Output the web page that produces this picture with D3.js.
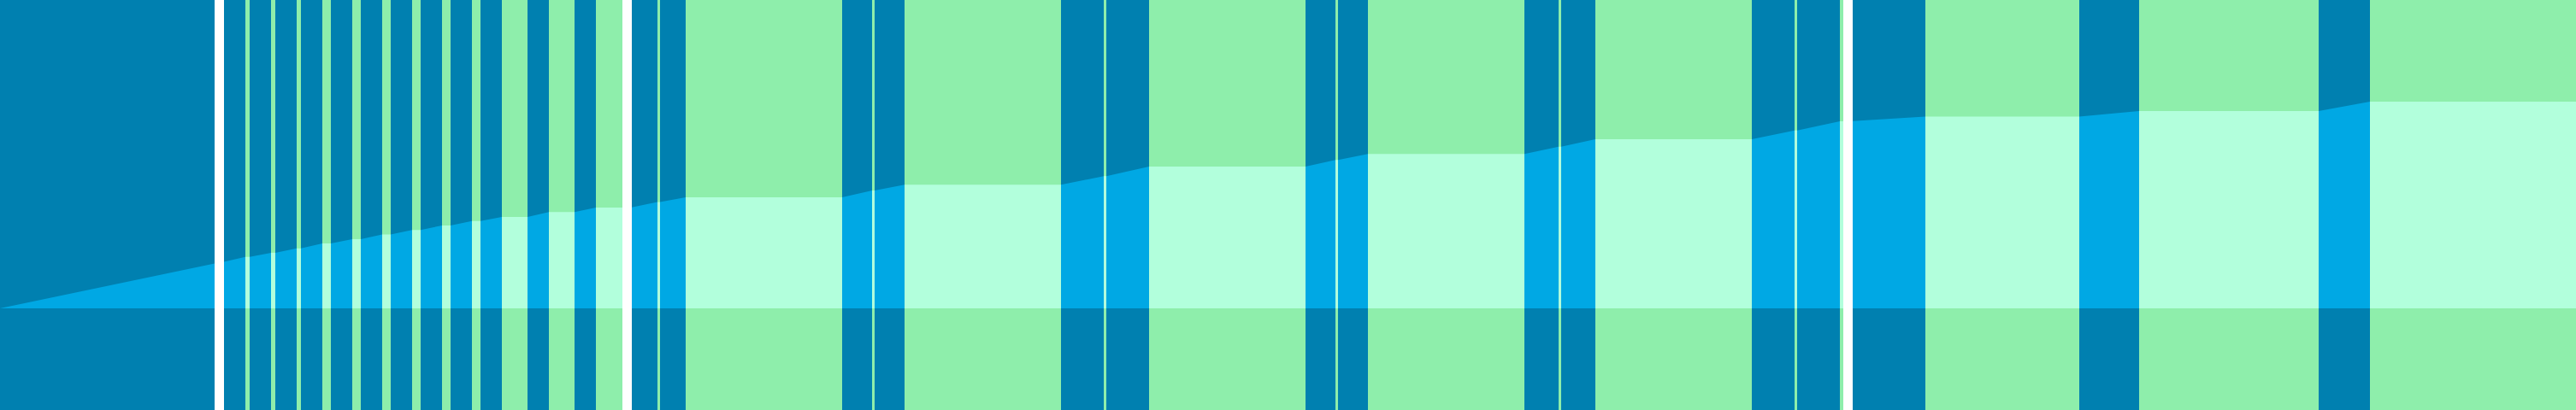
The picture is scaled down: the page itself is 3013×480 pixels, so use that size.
<!DOCTYPE html>
<html>
<head>
<meta charset="utf-8">
<script src="https://cdn.jsdelivr.net/npm/d3@7"></script>
<style>
  body { margin: 0; background: #fff; overflow: hidden; }
</style>
</head>
<body>
<div id="chart"></div>
<script>
// band edges along the time axis (tenths of a unit), one more than bands
const edges = [0, 25.1, 26.2, 28.7, 29.2, 31.7, 32.2, 34.7, 35.2, 37.7, 38.7, 41.2, 42.2,
    44.7, 45.7, 48.2, 49.2, 51.7, 52.7, 55.2, 56.2, 58.7, 61.7, 64.2, 67.2, 69.7, 72.8,
    73.9, 76.9, 77.2, 80.2, 98.5, 102.0, 102.3, 105.8, 124.1, 129.1, 129.4, 134.4, 152.7,
    156.2, 156.5, 160.0, 178.3, 182.3, 182.6, 186.6, 204.9, 209.9, 210.2, 215.2, 215.6,
    216.7, 225.2, 243.2, 250.2, 271.2, 277.2, 301.3];

// "on" = running (blue), "off" = idle (green), "gap" = no data
const kinds = ["on", "gap", "on", "off", "on", "off", "on", "off", "on", "off", "on", "off",
    "on", "off", "on", "off", "on", "off", "on", "off", "on", "off", "on", "off", "on", "off",
    "gap", "on", "off", "on", "off", "on", "off", "on", "off", "on", "off", "on", "off",
    "on", "off", "on", "off", "on", "off", "on", "off", "on", "off", "on", "off", "gap",
    "on", "off", "on", "off", "on", "off"];

// cumulative share (%) at every edge
const levels = [0, 21.7, 22.5, 24.9, 24.9, 26.9, 26.9, 29.0, 29.0, 31.4, 31.4, 33.5, 33.5,
    35.7, 35.7, 37.9, 37.9, 40.1, 40.1, 42.3, 42.3, 44.2, 44.2, 46.6, 46.6, 48.8, 48.8,
    48.9, 51.4, 51.4, 53.7, 53.7, 57.0, 57.0, 59.8, 59.8, 64.0, 64.0, 68.6, 68.6,
    71.8, 71.8, 74.7, 74.7, 78.2, 78.2, 81.8, 81.8, 86.1, 86.1, 90.5, 90.5,
    90.6, 92.8, 92.8, 95.5, 95.5, 100, 100];

const width = 3013, height = 480;

const darkColor = { on: "#0080b0", off: "#8eeeab", gap: "#ffffff" };
const lightColor = { on: "#00a8e4", off: "#b2ffdc" };

const x = d3.scaleLinear().domain([0, 301.3]).range([0, width]);
const y = d3.scaleLinear().domain([-49.2, 149.2]).range([height, 0]);

const svg = d3.select("#chart").append("svg")
    .attr("width", width)
    .attr("height", height);

// one object per band, built from the arrays above
const bands = kinds.map(function(k, i) {
    return { kind: k, x0: edges[i], x1: edges[i + 1], v0: levels[i], v1: levels[i + 1] };
});

// background columns
svg.append("g")
    .selectAll("rect")
    .data(bands).enter()
    .append("rect")
    .attr("x", d => x(d.x0))
    .attr("y", 0)
    .attr("width", d => x(d.x1) - x(d.x0))
    .attr("height", height)
    .attr("fill", d => darkColor[d.kind])
    .attr("shape-rendering", "crispEdges");

// cumulative area between the zero line and the running total
const area = d3.area()
    .x(d => x(d[0]))
    .y0(y(0))
    .y1(d => y(d[1]));

svg.append("g")
    .selectAll("path")
    .data(bands.filter(d => d.kind != "gap")).enter()
    .append("path")
    .attr("d", d => area([[d.x0, d.v0], [d.x1, d.v1]]))
    .attr("fill", d => lightColor[d.kind]);
</script>
</body>
</html>
